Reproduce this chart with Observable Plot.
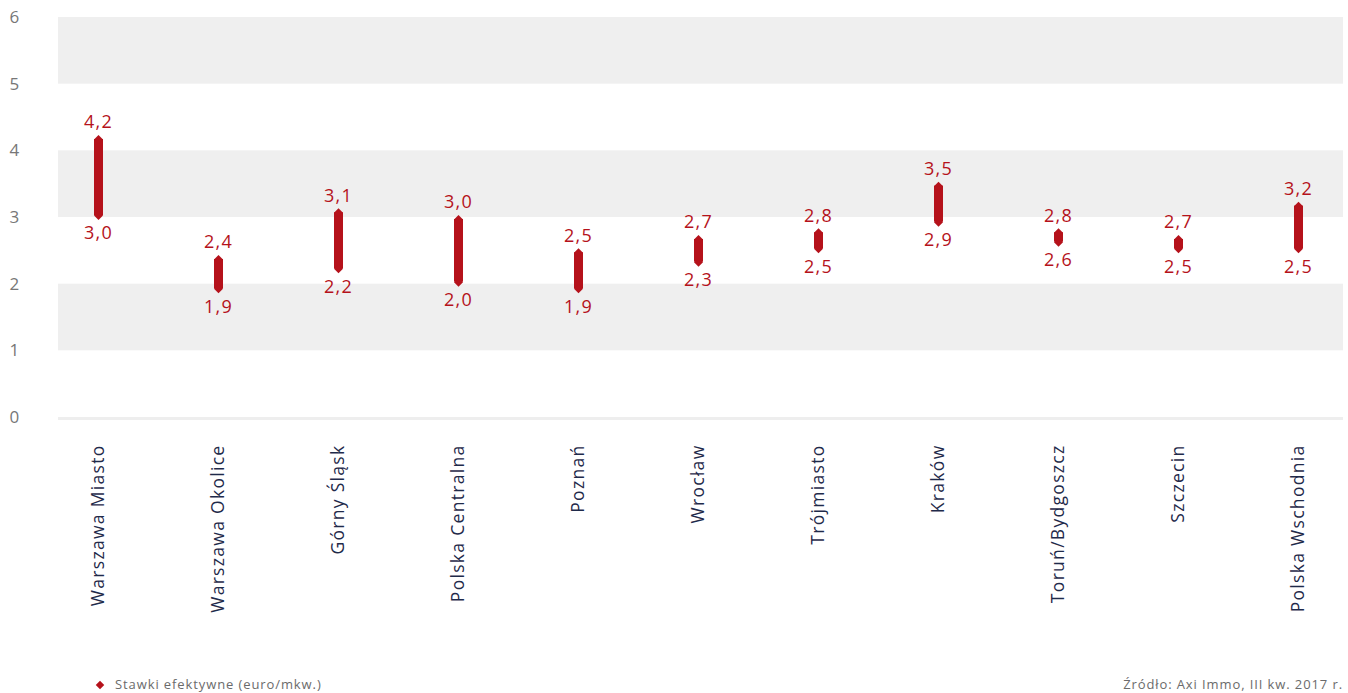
<!DOCTYPE html>
<html><head><meta charset="utf-8">
<script src="https://cdn.jsdelivr.net/npm/d3@7"></script>
<script src="https://cdn.jsdelivr.net/npm/@observablehq/plot@0.6"></script>
<style>
body{margin:0;background:#fff;font-family:"Open Sans",sans-serif;}
#legend{position:relative;width:1348px;height:23px;font-size:13px;color:#6b6b6b;letter-spacing:0.9px;}
#legend .l{position:absolute;left:97px;top:5px;}
#legend .l span.d{display:inline-block;width:6px;height:6px;background:#b5121b;transform:rotate(45deg);margin-right:12px;position:relative;top:-1px;}
#legend .r{position:absolute;right:5px;top:5px;}
</style></head>
<body>
<div id="chart"></div>
<div id="legend"><div class="l"><span class="d"></span>Stawki efektywne (euro/mkw.)</div><div class="r">Źródło: Axi Immo, III kw. 2017 r.</div></div>
<script>
const regions = ["Warszawa Miasto","Warszawa Okolice","Górny Śląsk","Polska Centralna","Poznań","Wrocław","Trójmiasto","Kraków","Toruń/Bydgoszcz","Szczecin","Polska Wschodnia"];
const minRates = [3.0,1.9,2.2,2.0,1.9,2.3,2.5,2.9,2.6,2.5,2.5];
const maxRates = [4.2,2.4,3.1,3.0,2.5,2.7,2.8,3.5,2.8,2.7,3.2];
const yTicks = [0,1,2,3,4,5,6];
const bands = [[1,2],[3,4],[5,6]];

const data = regions.map((r,i)=>({region:r, lo:minRates[i], hi:maxRates[i]}));
const bandData = bands.map(([a,b])=>({a,b}));
const fmt = v => v.toFixed(1).replace(".", ",");
const red = "#b5121b";

const chart = Plot.plot({
  width: 1348,
  height: 670,
  marginTop: 17,
  marginBottom: 253,
  marginLeft: 58,
  marginRight: 5,
  style: {fontFamily: "'Open Sans', sans-serif", fontSize: "17.5px", background: "#fff", letterSpacing: "1.3px"},
  x: {type: "point", domain: regions, range: [98, 1298], padding: 0, label: null},
  y: {domain: [0, 6], label: null},
  marks: [
    Plot.rectY(bandData, {y1: "a", y2: "b", fill: "#efefef"}),
    Plot.ruleY([0], {stroke: "#eeeeee", strokeWidth: 3, dy: 1}),
    Plot.axisY(yTicks, {tickSize: 0, tickPadding: 38, fill: "#777777", fontSize: 17, label: null, tickFormat: d => String(d)}),
    Plot.axisX({tickSize: 0, tickPadding: 27, tickRotate: -90, fill: "#1f2a4a", fontSize: 17.5, label: null}),
    Plot.ruleX(data, {x: "region", y1: "hi", y2: "lo", stroke: red, strokeWidth: 9, insetTop: 2, insetBottom: 2}),
    Plot.dot(data, {x: "region", y: "hi", symbol: "diamond2", r: 4.05, fill: red, stroke: "none", dy: 2}),
    Plot.dot(data, {x: "region", y: "lo", symbol: "diamond2", r: 4.05, fill: red, stroke: "none", dy: -2}),
    Plot.text(data, {x: "region", y: "hi", text: d => fmt(d.hi), fill: red, fontSize: 18, dy: -15, lineAnchor: "middle"}),
    Plot.text(data, {x: "region", y: "lo", text: d => fmt(d.lo), fill: red, fontSize: 18, dy: 16, lineAnchor: "middle"})
  ]
});
document.getElementById("chart").appendChild(chart);
</script>
</body></html>
